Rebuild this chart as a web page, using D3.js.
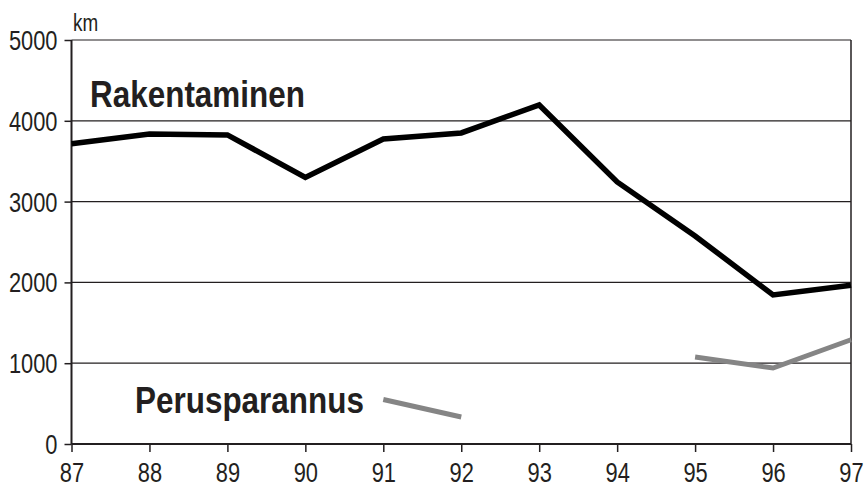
<!DOCTYPE html>
<html>
<head>
<meta charset="utf-8">
<script src="https://cdn.jsdelivr.net/npm/d3@7"></script>
<style>
  body { margin: 0; background: #fff; }
  svg text { font-family: "Liberation Sans", Arial, sans-serif; fill: #231f20; }
</style>
</head>
<body>
<div id="chart"></div>
<script>
const years = [87, 88, 89, 90, 91, 92, 93, 94, 95, 96, 97];
const rakentaminen = [3715, 3837, 3825, 3300, 3775, 3850, 4196, 3243, 2575, 1844, 1965];
const perusparannus = [null, null, null, null, 550, 334, null, null, 1077, 940, 1290];
const yTicks = [0, 1000, 2000, 3000, 4000, 5000];

const W = 866, H = 485;
const margin = {top: 40, right: 15, bottom: 41, left: 71.5};
const width = W - margin.left - margin.right,
      height = H - margin.top - margin.bottom;

// the original font is a condensed grotesque, squeeze the glyphs a bit
const condense = (sel, k) => sel.each(function() {
    const l = this.getComputedTextLength();
    this.setAttribute('textLength', l * k);
    this.setAttribute('lengthAdjust', 'spacingAndGlyphs');
});

const svg = d3.select('#chart').append('svg')
    .attr('width', W).attr('height', H);
const g = svg.append('g')
    .attr('transform', 'translate(' + margin.left + ',' + margin.top + ')');

const x = d3.scaleLinear().domain([87, 97]).range([0, width]);
const y = d3.scaleLinear().domain([0, 5000]).range([height, 0]);

// gridlines
g.selectAll('.grid').data(yTicks.filter(d => d > 0)).enter()
    .append('line')
    .attr('x1', 0).attr('x2', width)
    .attr('y1', y).attr('y2', y)
    .attr('stroke', '#231f20').attr('stroke-width', 1.2);

// right border
g.append('line')
    .attr('x1', width).attr('x2', width)
    .attr('y1', 0).attr('y2', height)
    .attr('stroke', '#231f20').attr('stroke-width', 1.5);

// axes
const yAxis = g.append('g')
    .call(d3.axisLeft(y).tickValues(yTicks).tickSize(7).tickPadding(7).tickFormat(d3.format('d')));
const xAxis = g.append('g')
    .attr('transform', 'translate(0,' + height + ')')
    .call(d3.axisBottom(x).tickValues(years).tickSize(8).tickPadding(10).tickFormat(d => d));
[yAxis, xAxis].forEach(a => {
    a.selectAll('path').attr('stroke', '#231f20').attr('stroke-width', 2);
    a.selectAll('line').attr('stroke', '#231f20').attr('stroke-width', 1.5);
    a.selectAll('text').attr('font-size', 28).attr('fill', '#231f20');
    condense(a.selectAll('text'), 0.78);
});
yAxis.selectAll('text').attr('dy', '0.34em');
xAxis.selectAll('text').attr('dy', '0.71em');
xAxis.select('.domain').attr('d', 'M0,0H' + width);
yAxis.select('.domain').attr('d', 'M0,0V' + height);

const line = d3.line()
    .defined(d => d[1] != null)
    .x(d => x(d[0]))
    .y(d => y(d[1]));

g.append('path')
    .datum(years.map((yr, i) => [yr, perusparannus[i]]))
    .attr('d', line)
    .attr('fill', 'none')
    .attr('stroke', '#858585')
    .attr('stroke-width', 5);

g.append('path')
    .datum(years.map((yr, i) => [yr, rakentaminen[i]]))
    .attr('d', line)
    .attr('fill', 'none')
    .attr('stroke', '#000')
    .attr('stroke-width', 5.5);

// labels
svg.append('text').attr('x', 73).attr('y', 31)
    .attr('font-size', 23).text('km')
    .call(condense, 0.82);
svg.append('text').attr('x', 90).attr('y', 107)
    .attr('font-size', 37).attr('font-weight', 'bold').text('Rakentaminen')
    .call(condense, 0.85);
svg.append('text').attr('x', 135).attr('y', 413)
    .attr('font-size', 37).attr('font-weight', 'bold').text('Perusparannus')
    .call(condense, 0.85);
</script>
</body>
</html>
